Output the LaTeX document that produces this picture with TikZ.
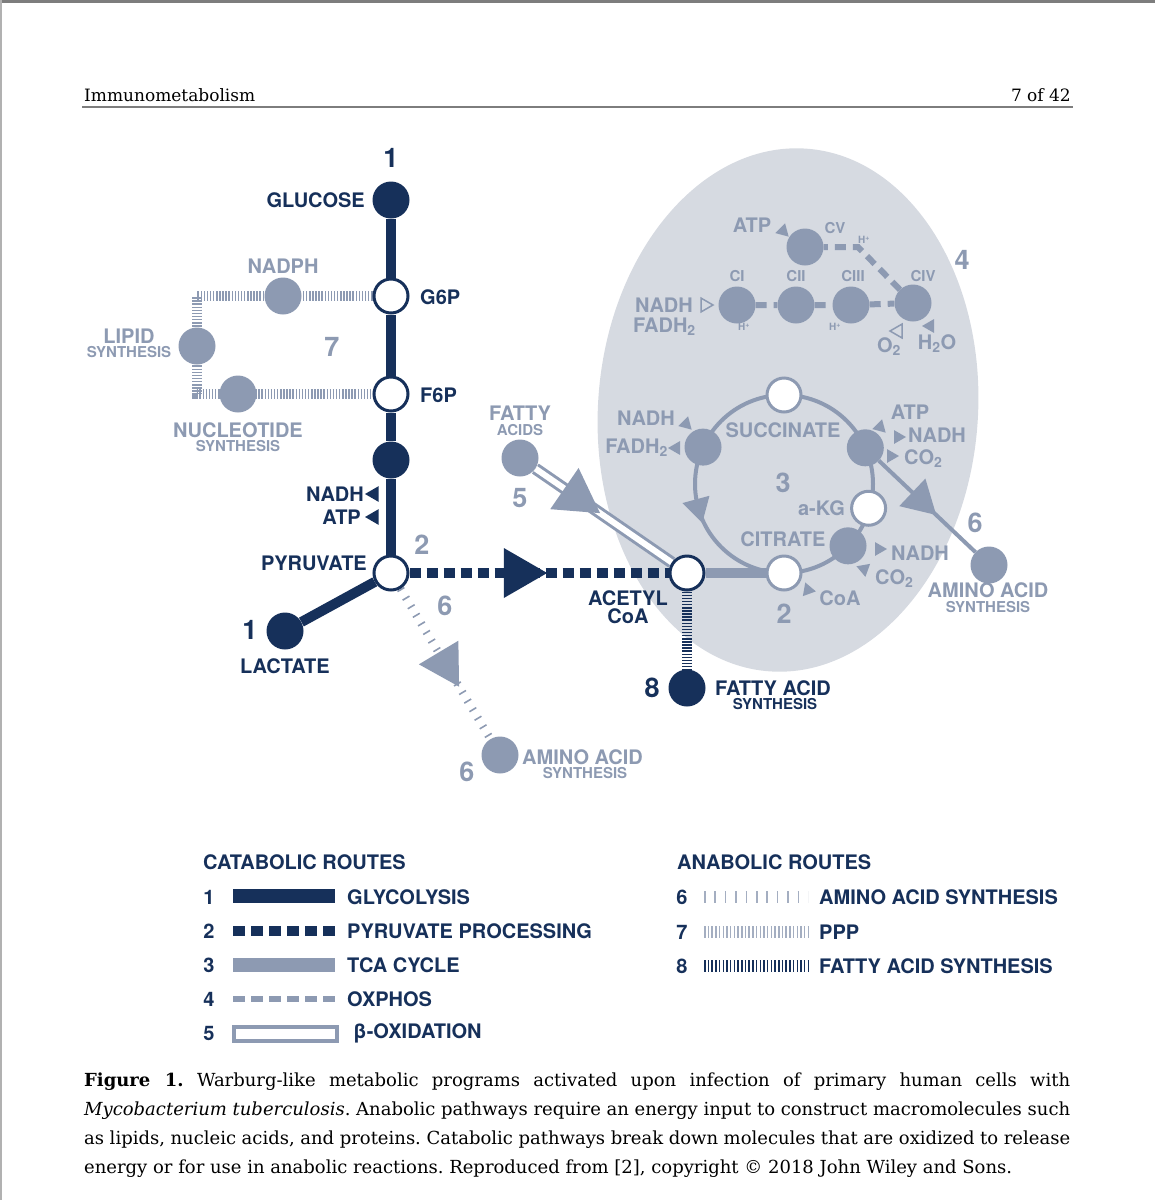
\documentclass[tikz,border=0pt]{standalone}
\usepackage{fontspec}
\setmainfont{DejaVu Serif}
\newfontfamily\hv{TeX Gyre Heros}
\usetikzlibrary{calc,decorations.markings}
\pgfdeclarelayer{back}
\pgfdeclarelayer{mid}
\pgfsetlayers{back,mid,main}
\frenchspacing

\begin{document}
\begin{tikzpicture}[x=1pt,y=-1pt,
  every node/.style={inner sep=0pt},
  lab/.style={font=\hv\bfseries\fontsize{20}{22}\selectfont,text=navy},
  glab/.style={lab,text=slate},
  sub/.style={font=\hv\bfseries\fontsize{15}{16}\selectfont,text=navy},
  gsub/.style={sub,text=slate},
  tiny/.style={font=\hv\bfseries\fontsize{10}{11}\selectfont,text=slate},
  num/.style={font=\hv\bfseries\fontsize{27}{28}\selectfont,text=navy},
  gnum/.style={num,text=slate},
  serif/.style={font=\fontsize{17}{20}\selectfont},
  capt/.style={font=\fontsize{18}{20}\selectfont},
  dot/.style={circle,fill=navy,minimum size=37pt},
  ring/.style={circle,draw=navy,fill=white,line width=3pt,minimum size=34pt},
  gdot/.style={circle,fill=slate,minimum size=37pt},
  gring/.style={circle,draw=slate,fill=white,line width=3pt,minimum size=34pt},
  glyc/.style={draw=navy,line width=10pt},
  pyrw/.style={draw=navy,line width=10pt,dash pattern=on 11pt off 6pt},
  tcaw/.style={draw=slate,line width=10pt},
  cyc/.style={draw=slate,line width=4pt},
  oxw/.style={draw=slate,line width=6pt,dash pattern=on 11pt off 7pt},
  betaw/.style={draw=slate,line width=3pt,double=white,double distance=6pt},
  aaw/.style={draw=slate,line width=8pt,dash pattern=on 1.6pt off 8.4pt},
  pppw/.style={draw=slate,line width=10pt,dash pattern=on 1.5pt off 1.6pt},
  faw/.style={draw=navy,line width=10pt,dash pattern=on 1.5pt off 1.6pt},
  midtri/.style n args={3}{postaction={decorate},decoration={markings,
    mark=at position #1 with {\fill[#2] ({0.577*#3},0) -- ({-0.289*#3},{0.5*#3}) -- ({-0.289*#3},{-0.5*#3}) -- cycle;}}},
]
  \definecolor{navy}{RGB}{22,48,90}
  \definecolor{slate}{RGB}{141,154,178}
  \definecolor{cellbg}{RGB}{214,218,225}
  \definecolor{rulegrey}{RGB}{125,125,125}
  \newcommand{\tri}[4][fill=slate]{%  centre, pointing angle, radius
    \path[#1,shift={(#2)}] (#3:#4) -- (#3+120:#4) -- (#3+240:#4) -- cycle;}

  \useasboundingbox (0,0) rectangle (1155,1200);

  % page frame and running head
  \fill[rulegrey] (0,0) rectangle (1155,3);
  \fill[rulegrey!60] (0,0) rectangle (1.5,1200);
  \node[serif,anchor=base west] (head) at (84,101) {Immunometabolism};
  \node[serif,anchor=base east] (page) at (1071,101) {7 of 42};
  \draw[rulegrey,line width=1.5pt] (82,107) -- (1073,107);

  % mitochondrion
  \begin{pgfonlayer}{back}
    \fill[cellbg,rotate around={-4:(788,410)}] (788,410) ellipse [x radius=190,y radius=262];
  \end{pgfonlayer}

  % glycolysis
  \node[dot]  (glc) at (391,200) {};
  \node[ring] (g6p) at (391,296) {};
  \node[ring] (f6p) at (391,394) {};
  \node[dot]  (gap) at (391,460) {};
  \node[ring] (pyr) at (391,573) {};
  \node[dot]  (lac) at (285,631) {};
  \node[num] (n1a) at (391,158) {1};
  \node[lab,anchor=east] (tglc) at (365,200) {GLUCOSE};
  \node[lab,anchor=west] (tg6p) at (420,297) {G6P};
  \node[lab,anchor=west] (tf6p) at (420,395) {F6P};
  \node[lab,anchor=east] (tnadh1) at (364,494) {NADH};
  \node[lab,anchor=east] (tatp1) at (361,517) {ATP};
  \tri[fill=navy]{374,494}{180}{9}
  \tri[fill=navy]{374,517}{180}{9}
  \node[lab,anchor=east] (tpyr) at (367,563) {PYRUVATE};
  \node[gnum] (n2a) at (422,545) {2};
  \node[num] (n1b) at (250,630) {1};
  \node[lab] (tlac) at (285,666) {LACTATE};

  % pentose phosphate pathway
  \node[gdot] (nadph) at (283,296) {};
  \node[gdot] (lipid) at (197,346) {};
  \node[gdot] (nucl) at (238,394) {};
  \coordinate (p1) at (197,296);
  \coordinate (p2) at (197,394);
  \node[glab] (tnadph) at (283,266) {NADPH};
  \node[glab] (tlip) at (129,336) {LIPID};
  \node[gsub] (tlip2) at (129,352) {SYNTHESIS};
  \node[gnum] (n7) at (332,347) {7};
  \node[glab] (tnuc) at (238,430) {NUCLEOTIDE};
  \node[gsub] (tnuc2) at (238,446) {SYNTHESIS};

  % pyruvate branches
  \node[ring] (acoa) at (687,573) {};
  \node[gdot] (aa1) at (500,755) {};
  \node[dot] (fa) at (687,688) {};
  \node[gnum] (n6a) at (445,606) {6};
  \node[gnum] (n6b) at (467,772) {6};
  \node[glab,anchor=west] (taa1) at (522,757) {AMINO ACID};
  \node[gsub] (taa1b) at (585,773) {SYNTHESIS};
  \node[lab] (tacoa) at (628,598) {ACETYL};
  \node[lab] (tacoa2) at (628,616) {CoA};
  \node[num] (n8) at (652,688) {8};
  \node[lab,anchor=west] (tfa) at (715,688) {FATTY ACID};
  \node[sub] (tfa2) at (775,704) {SYNTHESIS};

  % beta-oxidation
  \node[gdot] (fat) at (520,458) {};
  \node[glab] (tfat) at (520,413) {FATTY};
  \node[gsub] (tfat2) at (520,430) {ACIDS};
  \node[gnum] (n5) at (520,498) {5};

  % TCA cycle
  \coordinate (tca) at (784,484);
  \node[gring] (succ) at ($(tca)+(-90:89)$) {};
  \node[gdot]  (fum)  at ($(tca)+(204.5:89)$) {};
  \node[gdot]  (scoa) at ($(tca)+(-24:89)$) {};
  \node[gring] (akg)  at ($(tca)+(16:88)$) {};
  \node[gdot]  (icit) at ($(tca)+(44:89)$) {};
  \node[gring] (cit)  at ($(tca)+(90:89)$) {};
  \node[glab] (tsucc) at (783,430) {SUCCINATE};
  \node[gnum] (n3) at (783,483) {3};
  \node[glab,anchor=east] (takg) at (845,508) {a-KG};
  \node[glab] (tcit) at (783,539) {CITRATE};
  \node[gnum] (n2b) at (784,614) {2};
  \node[glab] (tnadh2) at (646,418) {NADH};
  \tri{686,424}{45}{8}
  \node[glab,anchor=east] (tfadh) at (668,448) {FADH\textsubscript{2}};
  \tri{676,448}{180}{8}
  \node[glab] (tatp2) at (910,412) {ATP};
  \tri{880,427}{165}{8}
  \node[glab,anchor=west] (tnadh3) at (908,435) {NADH};
  \tri{898,437}{0}{8}
  \node[glab,anchor=west] (tco2a) at (904,459) {CO\textsubscript{2}};
  \tri{891,456}{-120}{8}
  \node[glab,anchor=west] (tnadh4) at (891,553) {NADH};
  \tri{879,549}{0}{8}
  \node[glab,anchor=west] (tco2b) at (875,579) {CO\textsubscript{2}};
  \tri{864,569}{-160}{8}
  \node[glab] (tcoa) at (840,598) {CoA};
  \tri{808,590}{-110}{8}
  \node[gdot] (aa2) at (989,565) {};
  \node[gnum] (n6c) at (975,523) {6};
  \node[glab] (taa2) at (988,590) {AMINO ACID};
  \node[gsub] (taa2b) at (988,607) {SYNTHESIS};

  % electron transport chain
  \node[gdot] (ci)   at (737,305) {};
  \node[gdot] (cii)  at (796,305) {};
  \node[gdot] (ciii) at (851,305) {};
  \node[gdot] (civ)  at (913,303) {};
  \node[gdot] (cv)   at (805,247) {};
  \coordinate (hbend) at (858,247);
  \node[gsub] (tci) at (737,276) {CI};
  \node[gsub] (tcii) at (796,276) {CII};
  \node[gsub] (tciii) at (853,276) {CIII};
  \node[gsub] (tciv) at (923,276) {CIV};
  \node[gsub] (tcv) at (835,228) {CV};
  \node[tiny] (th1) at (744,327) {H\textsuperscript{+}};
  \node[tiny] (th2) at (835,327) {H\textsuperscript{+}};
  \node[tiny] (th3) at (864,240) {H\textsuperscript{+}};
  \node[glab] (tatp3) at (752,225) {ATP};
  \tri{783,231}{45}{8}
  \node[gnum] (n4) at (962,260) {4};
  \node[glab,anchor=east] (tnadh5) at (693,305) {NADH};
  \tri[draw=slate,line width=1.5pt]{705,305}{0}{8}
  \node[glab,anchor=west] (tfadh2) at (633,327) {FADH\textsubscript{2}};
  \tri[draw=slate,line width=1.5pt]{898,331}{180}{8}
  \node[glab] (to2) at (889,347) {O\textsubscript{2}};
  \tri{930,326}{60}{8}
  \node[glab] (th2o) at (937,344) {H\textsubscript{2}O};

  % routes
  \begin{pgfonlayer}{mid}
    \draw[glyc] (glc) -- (g6p);
    \draw[glyc] (g6p) -- (f6p);
    \draw[glyc] (f6p) -- (gap);
    \draw[glyc] (gap) -- (pyr);
    \draw[glyc] (pyr) -- (lac);
    \draw[pppw] (g6p) -- (nadph.center) -- (p1) -- (lipid.center) -- (p2) -- (nucl.center) -- (f6p);
    \draw[pyrw,midtri={0.42}{navy}{50}] (pyr) -- (acoa);
    \draw[aaw,midtri={0.5}{slate}{46}] (pyr) -- (aa1);
    \draw[faw] (acoa) -- (fa);
    \draw[betaw,midtri={0.3}{slate}{50}] (fat) -- (acoa);
    \draw[tcaw] (acoa) -- (cit);
    \draw[cyc,midtri={0.458}{slate}{-28}] (tca) circle [radius=89];
    \draw[draw=slate,line width=4pt,midtri={0.43}{slate}{38}] (scoa) -- (aa2);
    \draw[oxw] (ci) -- (cii) -- (ciii) -- (civ) -- (hbend) -- (cv);
  \end{pgfonlayer}

  % legend
  \node[lab,anchor=west] (tcat) at (203,862) {CATABOLIC ROUTES};
  \foreach \n/\y/\t in {1/897/GLYCOLYSIS,2/931/PYRUVATE PROCESSING,3/965/TCA CYCLE,4/999/OXPHOS}{
    \node[lab] (kn\n) at (209,\y) {\n};
    \node[lab,anchor=west] (kt\n) at (347,\y) {\t};}
  \node[lab] (kn5) at (209,1033) {5};
  \node[lab,anchor=west] (kt5) at (353,1033) {β-OXIDATION};
  \draw[navy,line width=14pt] (233,896) -- (335,896);
  \draw[navy,line width=10pt,dash pattern=on 12pt off 6pt] (233,931) -- (335,931);
  \draw[slate,line width=14pt] (233,965) -- (335,965);
  \draw[slate,line width=6pt,dash pattern=on 12pt off 6pt] (233,999) -- (335,999);
  \draw[slate,line width=3.5pt,fill=white] (234,1027) rectangle (337,1041);
  \node[lab,anchor=west] (tana) at (677,862) {ANABOLIC ROUTES};
  \foreach \n/\y/\t in {6/897/AMINO ACID SYNTHESIS,7/932/PPP,8/966/FATTY ACID SYNTHESIS}{
    \node[lab] (kn\n) at (682,\y) {\n};
    \node[lab,anchor=west] (kt\n) at (819,\y) {\t};}
  \draw[slate!80,line width=12pt,dash pattern=on 1.5pt off 8.9pt] (704,897) -- (808,897);
  \draw[slate!80,line width=12pt,dash pattern=on 1.5pt off 2.2pt] (704,932) -- (808,932);
  \draw[navy,line width=12pt,dash pattern=on 1.5pt off 2.2pt] (704,966) -- (808,966);

  % caption
  \node[capt,anchor=base west] (cap1) at (84,1086) {\makebox[986pt][s]{\textbf{Figure 1.} Warburg-like metabolic programs activated upon infection of primary human cells with}};
  \node[capt,anchor=base west] (cap2) at (84,1115) {\makebox[986pt][s]{\textit{Mycobacterium tuberculosis}. Anabolic pathways require an energy input to construct macromolecules such}};
  \node[capt,anchor=base west] (cap3) at (84,1144) {\makebox[986pt][s]{as lipids, nucleic acids, and proteins. Catabolic pathways break down molecules that are oxidized to release}};
  \node[capt,anchor=base west] (cap4) at (84,1173) {energy or for use in anabolic reactions. Reproduced from [2], copyright © 2018 John Wiley and Sons.};
\end{tikzpicture}
\end{document}
